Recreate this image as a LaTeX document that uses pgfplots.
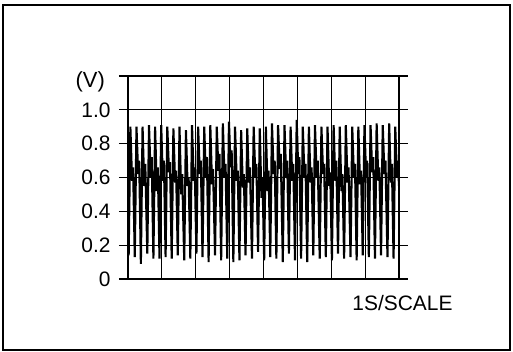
\documentclass[border=0pt]{standalone}
\usepackage{pgfplots}
\pgfplotsset{compat=1.18}
\usepackage{fontspec}
\setmainfont{Liberation Sans}
\begin{document}
\begin{tikzpicture}
\useasboundingbox (-128bp,-73bp) rectangle (385bp,279bp);
\draw[line width=1.4bp] (-125bp,-71bp) rectangle (382bp,274bp);
\begin{axis}[
  scale only axis, width=271bp, height=203bp,
  xmin=0, xmax=8, ymin=0, ymax=1.2,
  xtick={0,1,...,8}, xticklabels={},
  ytick={0,0.2,0.4,0.6,0.8,1.0,1.2},
  yticklabels={0,0.2,0.4,0.6,0.8,1.0,},
  grid=major, grid style={black, line width=1.1bp},
  axis line style={line width=1.8bp},
  xtick style={draw=none},
  ytick style={black, line width=1.1bp},
  tick align=outside, major tick length=9bp,
  /pgf/number format/assume math mode=true,
  yticklabel style={font=\fontsize{21}{24}\selectfont, xshift=-5bp},
  clip=true,
]
\addplot[black, line width=2.1bp] coordinates {
(0,0.60)
(0.02,0.14)(0.07,0.90)(0.12,0.58)(0.15,0.66)
(0.20,0.13)(0.25,0.90)(0.30,0.62)(0.33,0.70)
(0.38,0.09)(0.43,0.90)(0.48,0.55)(0.51,0.68)
(0.57,0.15)(0.62,0.91)(0.67,0.60)(0.70,0.72)
(0.75,0.12)(0.80,0.90)(0.85,0.52)(0.88,0.66)
(0.93,0.12)(0.98,0.91)(1.03,0.58)(1.06,0.70)
(1.11,0.13)(1.16,0.90)(1.21,0.63)(1.24,0.69)
(1.29,0.12)(1.34,0.89)(1.39,0.57)(1.42,0.64)
(1.47,0.14)(1.52,0.90)(1.57,0.50)(1.60,0.62)
(1.66,0.11)(1.71,0.88)(1.76,0.55)(1.79,0.60)
(1.84,0.12)(1.89,0.91)(1.94,0.58)(1.97,0.66)
(2.02,0.15)(2.07,0.90)(2.12,0.62)(2.15,0.70)
(2.20,0.13)(2.25,0.90)(2.30,0.60)(2.33,0.72)
(2.38,0.10)(2.43,0.91)(2.48,0.56)(2.51,0.65)
(2.57,0.14)(2.62,0.90)(2.67,0.64)(2.70,0.74)
(2.75,0.11)(2.80,0.92)(2.85,0.60)(2.88,0.68)
(2.93,0.12)(2.98,0.93)(3.03,0.66)(3.06,0.76)
(3.11,0.10)(3.16,0.90)(3.21,0.58)(3.24,0.64)
(3.29,0.11)(3.34,0.88)(3.39,0.54)(3.42,0.62)
(3.47,0.14)(3.52,0.89)(3.57,0.57)(3.60,0.66)
(3.66,0.12)(3.71,0.90)(3.76,0.60)(3.79,0.68)
(3.84,0.16)(3.89,0.89)(3.94,0.48)(3.97,0.60)
(4.02,0.11)(4.07,0.90)(4.12,0.52)(4.15,0.64)
(4.20,0.13)(4.25,0.92)(4.30,0.62)(4.33,0.70)
(4.38,0.12)(4.43,0.91)(4.48,0.65)(4.51,0.74)
(4.57,0.10)(4.62,0.91)(4.67,0.60)(4.70,0.70)
(4.75,0.15)(4.80,0.90)(4.85,0.58)(4.88,0.68)
(4.93,0.11)(4.98,0.94)(5.03,0.62)(5.06,0.72)
(5.11,0.12)(5.16,0.90)(5.21,0.60)(5.24,0.68)
(5.29,0.10)(5.34,0.90)(5.39,0.57)(5.42,0.66)
(5.47,0.14)(5.52,0.91)(5.57,0.60)(5.60,0.70)
(5.66,0.12)(5.71,0.90)(5.76,0.62)(5.79,0.68)
(5.84,0.13)(5.89,0.90)(5.94,0.55)(5.97,0.63)
(6.02,0.11)(6.07,0.91)(6.12,0.58)(6.15,0.70)
(6.20,0.15)(6.25,0.90)(6.30,0.52)(6.33,0.62)
(6.38,0.12)(6.43,0.91)(6.48,0.57)(6.51,0.66)
(6.57,0.13)(6.62,0.90)(6.67,0.60)(6.70,0.68)
(6.75,0.11)(6.80,0.90)(6.85,0.56)(6.88,0.64)
(6.93,0.14)(6.98,0.91)(7.03,0.60)(7.06,0.70)
(7.11,0.13)(7.16,0.91)(7.21,0.63)(7.24,0.72)
(7.29,0.12)(7.34,0.92)(7.39,0.58)(7.42,0.66)
(7.47,0.14)(7.52,0.91)(7.57,0.62)(7.60,0.70)
(7.66,0.13)(7.71,0.92)(7.76,0.57)(7.79,0.68)
(7.84,0.12)(7.89,0.90)(7.94,0.60)(7.97,0.70)
(8.00,0.55)
};
\end{axis}
\node[anchor=east, font=\fontsize{22}{26}\selectfont, inner sep=0pt] at (-23bp,197bp) {(V)};
\node[font=\fontsize{21}{25}\selectfont, inner sep=0pt] at (274.5bp,-24bp) {1S/SCALE};
\end{tikzpicture}
\end{document}
